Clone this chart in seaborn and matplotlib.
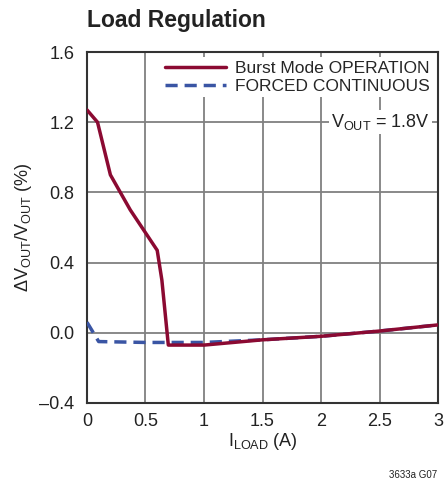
import matplotlib
matplotlib.use("Agg")
import matplotlib.pyplot as plt
import seaborn as sns
import pandas as pd
from matplotlib import font_manager

sns.set_style("white")
names = {f.name for f in font_manager.fontManager.ttflist}
fam = ['Liberation Sans Narrow', 'Liberation Sans', 'DejaVu Sans'] if 'Liberation Sans Narrow' in names else ['Liberation Sans', 'DejaVu Sans']
plt.rcParams['font.family'] = fam
plt.rcParams['mathtext.default'] = 'regular'

burst_x = [0.0, 0.09, 0.2, 0.37, 0.6, 0.64, 0.695, 1.0, 1.5, 2.0, 2.5, 3.0]
burst_y = [1.27, 1.20, 0.90, 0.70, 0.47, 0.30, -0.07, -0.07, -0.04, -0.02, 0.01, 0.045]
forced_x = [0.0, 0.1, 0.5, 1.0, 1.5, 2.0, 2.5, 3.0]
forced_y = [0.06, -0.05, -0.055, -0.055, -0.04, -0.02, 0.01, 0.045]

x_ticks = [0, 0.5, 1, 1.5, 2, 2.5, 3]
x_labels = ["0", "0.5", "1", "1.5", "2", "2.5", "3"]
y_ticks = [-0.4, 0.0, 0.4, 0.8, 1.2, 1.6]
y_labels = ["\u20130.4", "0.0", "0.4", "0.8", "1.2", "1.6"]

df = pd.concat([
    pd.DataFrame({"x": burst_x, "y": burst_y, "s": "Burst Mode OPERATION"}),
    pd.DataFrame({"x": forced_x, "y": forced_y, "s": "FORCED CONTINUOUS"}),
])

fig = plt.figure(figsize=(4.47, 4.86), dpi=100)
ax = fig.add_axes([0.1946, 0.1708, 0.7854, 0.7222])

sns.lineplot(data=df[df.s == "FORCED CONTINUOUS"], x="x", y="y", ax=ax, color="#3A55A4",
             lw=2.5, linestyle=(0, (3.5, 2.0)), label="FORCED CONTINUOUS", zorder=3)
sns.lineplot(data=df[df.s == "Burst Mode OPERATION"], x="x", y="y", ax=ax, color="#8B0A32",
             lw=2.5, label="Burst Mode OPERATION", zorder=4)

ax.set_xlim(0, 3)
ax.set_ylim(-0.4, 1.6)
ax.set_xticks(x_ticks)
ax.set_xticklabels(x_labels)
ax.set_yticks(y_ticks)
ax.set_yticklabels(y_labels)
ax.grid(True, color="#808080", lw=1.3)
ax.tick_params(axis="x", labelsize=13, length=0, pad=7, colors="#222222")
ax.tick_params(axis="y", labelsize=13, length=0, pad=9, colors="#222222")
for sp in ax.spines.values():
    sp.set_color("#333333")
    sp.set_linewidth(1.5)

ax.set_xlabel("$I_{LOAD}$ (A)", fontsize=13, color="#222222", labelpad=1)
ax.set_ylabel("$\\Delta V_{OUT}/V_{OUT}$ (%)", fontsize=13, color="#222222", labelpad=4)

h, l = ax.get_legend_handles_labels()
order = [l.index("Burst Mode OPERATION"), l.index("FORCED CONTINUOUS")]
leg = ax.legend([h[i] for i in order], [l[i] for i in order], loc="upper right",
                fontsize=12.5, frameon=True, framealpha=1, edgecolor="white", fancybox=False,
                handlelength=3.5, handletextpad=0.5, borderpad=0.2, labelspacing=0.15,
                borderaxespad=0.3)
leg.get_frame().set_linewidth(0)

ax.text(2.93, 1.2, "$V_{OUT}$ = 1.8V", fontsize=13, color="#222222", ha="right", va="center",
        bbox=dict(facecolor="white", edgecolor="none", pad=1.5), zorder=5)

fig.text(0.195, 0.957, "Load Regulation", fontsize=16.5, fontweight="bold", color="#222222",
         ha="left", va="center")
fig.text(0.977, 0.022, "3633a G07", fontsize=7, color="#222222", ha="right", va="center")

fig.savefig("out.png", dpi=100)
